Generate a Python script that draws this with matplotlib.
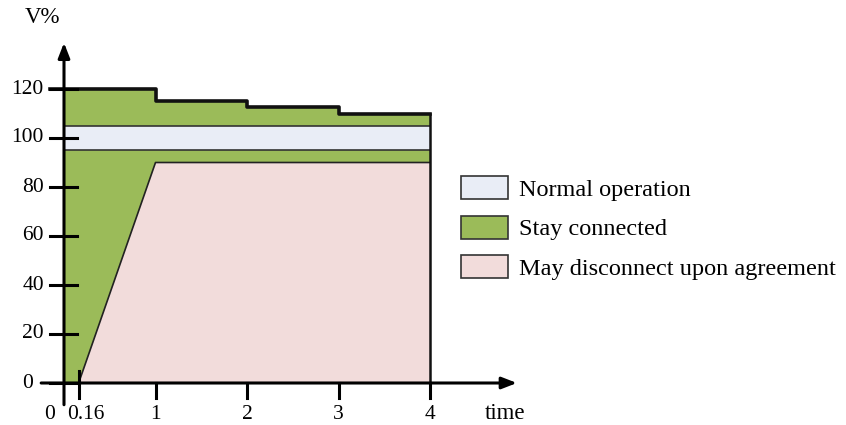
import numpy as np
import matplotlib.pyplot as plt
from matplotlib.patches import Patch

plt.rcParams['font.family'] = ['Liberation Serif', 'DejaVu Serif']

# Данные диаграммы
step_t = [0, 1, 2, 3, 4]
step_v = [120, 115, 112.5, 110, 110]
normal_lo, normal_hi = 95, 105
pink_t = [0.16, 1, 4]
pink_v = [0, 90, 90]
x_ticks = [0.16, 1, 2, 3, 4]
x_labels = ['0.16', '1', '2', '3', '4']
y_ticks = [0, 20, 40, 60, 80, 100, 120]

green = '#9BBB59'
blue = '#E9EDF6'
pink = '#F2DCDB'

fig = plt.figure(figsize=(8.46, 4.25), dpi=100)
ax = fig.add_axes([0, 0, 1, 1])
# пиксели -> данные: x=0 на 64 px, 91.5 px на единицу; y=0 на 383 px, 2.45 px на единицу
ax.set_xlim(-64 / 91.5, (846 - 64) / 91.5)
ax.set_ylim(-(425 - 383) / 2.45, 383 / 2.45)
ax.axis('off')

# зелёная область
ax.fill_between(step_t, 0, step_v, step='post', color=green, lw=0, zorder=1)
# нормальный режим
ax.fill_between([0, 4], normal_lo, normal_hi, color=blue, lw=0, zorder=2)
ax.plot([0, 4], [normal_lo, normal_lo], color='#333333', lw=1.2, zorder=3)
ax.plot([0, 4], [normal_hi, normal_hi], color='#333333', lw=1.2, zorder=3)
# розовая область
ax.fill(pink_t + [4], pink_v + [0], color=pink, lw=0, zorder=2)
ax.plot(pink_t, pink_v, color='#222222', lw=1.2, zorder=3)

# верхняя ступенчатая граница
ax.step([-0.15] + step_t, [step_v[0]] + step_v, where='post', color='#111111', lw=2.6, zorder=4)
ax.plot([4, 4], [0, step_v[-1]], color='#111111', lw=1.8, zorder=4)

# оси со стрелками
ax.annotate('', xy=(4.98, 0), xytext=(-0.28, 0),
            arrowprops=dict(arrowstyle='-|>,head_length=0.9,head_width=0.35', color='black', lw=2.2),
            zorder=5)
ax.annotate('', xy=(0, 140), xytext=(0, -10),
            arrowprops=dict(arrowstyle='-|>,head_length=0.9,head_width=0.35', color='black', lw=2.2),
            zorder=5)

fs = 15.5
# деления
for v in y_ticks:
    ax.plot([-0.15, 0.14], [v, v], color='black', lw=2.2, zorder=5)
    if v > 0:
        ax.text(-0.22, v, str(v), ha='right', va='center', fontsize=fs)
ax.text(-0.34, 0, '0', ha='right', va='center', fontsize=fs)
for t, lab in zip(x_ticks, x_labels):
    top = 5 if t < 1 else 0
    ax.plot([t, t], [top, -6], color='black', lw=2.2, zorder=5)
    ax.text(t + (0.08 if t < 1 else 0), -13, lab, ha='center', va='center', fontsize=fs)
ax.text(-0.16, -13, '0', ha='center', va='center', fontsize=fs)
ax.text(-0.24, 149, 'V%', ha='center', va='center', fontsize=16.5)
ax.text(4.82, -12.5, 'time', ha='center', va='center', fontsize=16.5)

handles = [Patch(facecolor=blue, edgecolor='#333333', lw=1.2),
           Patch(facecolor=green, edgecolor='#333333', lw=1.2),
           Patch(facecolor=pink, edgecolor='#333333', lw=1.2)]
labels = ['Normal operation', 'Stay connected', 'May disconnect upon agreement']
fig.legend(handles, labels, loc='upper left', bbox_to_anchor=(461 / 846, 1 - 176 / 425),
           frameon=False, fontsize=17.5, handlelength=1.93, handleheight=1.1,
           handletextpad=0.45, labelspacing=0.6, borderpad=0, borderaxespad=0)

plt.savefig('out.png', dpi=100)
